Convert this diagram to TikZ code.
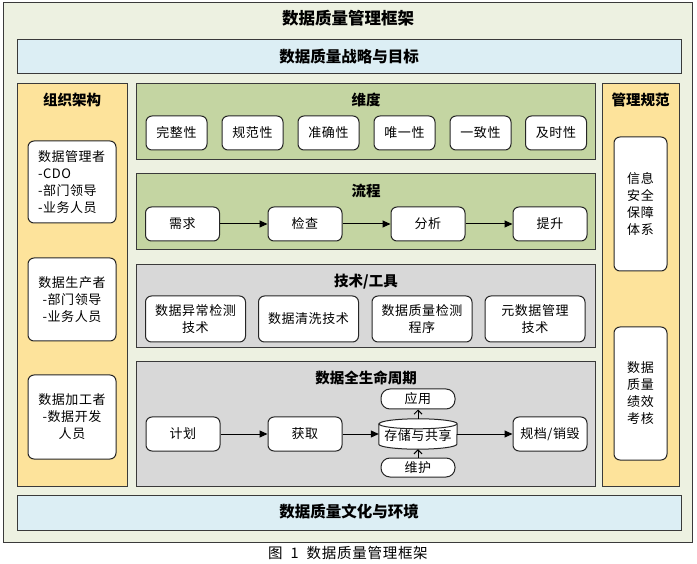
\documentclass[tikz,border=0pt]{standalone}
\usepackage{fontspec}
\setmainfont{Noto Sans CJK SC}
\usetikzlibrary{arrows.meta,calc}
\definecolor{outerc}{HTML}{EDF1E1}
\definecolor{bluec}{HTML}{DCEEF4}
\definecolor{yellowc}{HTML}{FDE39B}
\definecolor{greenc}{HTML}{C4D5A2}
\definecolor{grayc}{HTML}{D8D8D8}
\definecolor{linec}{HTML}{3A3A3A}
\begin{document}
\begin{tikzpicture}[x=1pt,y=-1pt,
  panel/.style={draw=linec,line width=1pt},
  wbox/.style={draw=black!85,fill=white,rounded corners=6pt,line width=1pt,
    font=\fontsize{13}{17}\selectfont\addfontfeature{LetterSpace=4},inner sep=0pt,align=center},
  ttl/.style={font=\fontsize{14.5}{17}\selectfont\bfseries,inner sep=0pt},
  bigttl/.style={font=\fontsize{15.5}{18}\selectfont\bfseries,inner sep=0pt},
  flowarrow/.style={-{Triangle[length=8pt,width=7pt]},line width=1pt},
  openarrow/.style={-{Straight Barb[length=4pt,width=8pt]},line width=1pt}]

\useasboundingbox (0,0) rectangle (697,564);
\fill[white] (0,0) rectangle (697,564);

% outer frame
\draw[panel,fill=outerc] (3,3) rectangle (692,542);
\node[font=\fontsize{16.5}{18}\selectfont\bfseries,inner sep=0pt] (title) at (348,18) {数据质量管理框架};

% strategy and culture bars
\draw[panel,fill=bluec] (17,40) rectangle (681,74);
\node[bigttl] (strat) at (349,57) {数据质量战略与目标};
\draw[panel,fill=bluec] (17,495) rectangle (681,530);
\node[bigttl] (cult) at (349,512) {数据质量文化与环境};

% left panel
\draw[panel,fill=yellowc] (17,84) rectangle (127,486);
\node[ttl] (orgt) at (72,100) {组织架构};
\node[wbox,align=left,minimum width=88pt,minimum height=82pt,text width=68pt] (l1) at (72,182) {数据管理者\\-CDO\\-部门领导\\-业务人员};
\node[wbox,minimum width=88pt,minimum height=83pt] (l2) at (72,299.5) {数据生产者\\-部门领导\\-业务人员};
\node[wbox,minimum width=88pt,minimum height=84pt] (l3) at (72,417) {数据加工者\\-数据开发\\人员};

% right panel
\draw[panel,fill=yellowc] (602,84) rectangle (679,486);
\node[ttl] (mgt) at (640.5,100) {管理规范};
\node[wbox,minimum width=53pt,minimum height=134pt] (r1) at (640.5,204) {信息\\安全\\保障\\体系};
\node[wbox,minimum width=53pt,minimum height=133pt] (r2) at (640.5,393.5) {数据\\质量\\绩效\\考核};

% dimension panel
\draw[panel,fill=greenc] (136,84) rectangle (595,160);
\node[ttl] (dimt) at (366,100) {维度};
\foreach \n/\x/\t in {d1/176.5/完整性,d2/252.5/规范性,d3/328.5/准确性,d4/404.5/唯一性,d5/480.5/一致性,d6/556/及时性}{
  \node[wbox,minimum width=61pt,minimum height=34pt] (\n) at (\x,133) {\t};
}

% process panel
\draw[panel,fill=greenc] (136,174) rectangle (595,250);
\node[ttl] (proct) at (366,191) {流程};
\node[wbox,minimum width=74pt,minimum height=34pt] (p1) at (182.5,224) {需求};
\node[wbox,minimum width=74pt,minimum height=34pt] (p2) at (305,224) {检查};
\node[wbox,minimum width=74pt,minimum height=34pt] (p3) at (428,224) {分析};
\node[wbox,minimum width=74pt,minimum height=34pt] (p4) at (550,224) {提升};
\draw[flowarrow] (p1) -- (p2);
\draw[flowarrow] (p2) -- (p3);
\draw[flowarrow] (p3) -- (p4);

% technology panel
\draw[panel,fill=grayc] (136,265) rectangle (595,348);
\node[ttl] (techt) at (366,282) {技术/工具};
\node[wbox,minimum width=100pt,minimum height=46pt] (t1) at (195.5,319) {数据异常检测\\技术};
\node[wbox,minimum width=100pt,minimum height=46pt] (t2) at (308.5,319) {数据清洗技术};
\node[wbox,minimum width=100pt,minimum height=46pt] (t3) at (422,319) {数据质量检测\\程序};
\node[wbox,minimum width=100pt,minimum height=46pt] (t4) at (535,319) {元数据管理\\技术};

% lifecycle panel
\draw[panel,fill=grayc] (136,362) rectangle (595,486);
\node[ttl] (lifet) at (366,378) {数据全生命周期};
\node[wbox,minimum width=74pt,minimum height=34pt] (c1) at (183,434) {计划};
\node[wbox,minimum width=74pt,minimum height=34pt] (c2) at (305,434) {获取};
\node[wbox,minimum width=74pt,minimum height=34pt] (c4) at (550,434) {规档/销毁};
\node[wbox,rounded corners=9pt,minimum width=74pt,minimum height=20pt] (app) at (418,399) {应用};
\node[wbox,rounded corners=9pt,minimum width=74pt,minimum height=19pt] (mnt) at (418,467.5) {维护};
% cylinder
\node[inner sep=0pt,minimum width=78pt,minimum height=30pt] (c3) at (418,434) {};
\draw[draw=black!85,fill=white,line width=1pt]
  ($(c3.north west)+(0,5)$) -- ($(c3.south west)+(0,-5)$)
  arc[start angle=180,end angle=360,x radius=39pt,y radius=5pt]
  -- ($(c3.north east)+(0,5)$)
  arc[start angle=0,end angle=180,x radius=39pt,y radius=5pt] -- cycle;
\draw[draw=black!85,line width=1pt] ($(c3.north west)+(0,5)$)
  arc[start angle=180,end angle=360,x radius=39pt,y radius=5pt];
\node[font=\fontsize{13}{17}\selectfont\addfontfeature{LetterSpace=4},inner sep=0pt] (c3t) at (418,436) {存储与共享};
\draw[flowarrow] (c1) -- (c2);
\draw[flowarrow] (c2) -- (c3);
\draw[flowarrow] (c3) -- (c4);
\draw[openarrow] (c3.north) -- (app.south);
\draw[openarrow] (mnt.north) -- (c3.south);

% caption
\node[font=\fontsize{14.5}{16}\selectfont\addfontfeature{LetterSpace=5},inner sep=0pt] (cap) at (348,553) {图 \ 1 \ 数据质量管理框架};
\end{tikzpicture}
\end{document}
